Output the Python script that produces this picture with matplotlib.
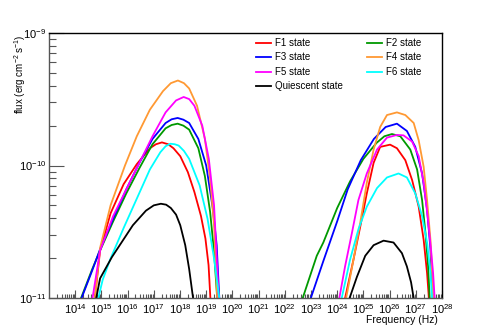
import numpy as np
import matplotlib
matplotlib.use("Agg")
import matplotlib.pyplot as plt
from matplotlib.ticker import FixedLocator, LogLocator, NullFormatter

plt.rcParams["font.family"] = ["Liberation Sans", "DejaVu Sans"]
plt.rcParams["mathtext.fontset"] = "custom"
plt.rcParams["mathtext.rm"] = "Liberation Sans"
plt.rcParams["mathtext.it"] = "Liberation Sans:italic"

# log10(frequency / Hz) and log10(flux / erg cm^-2 s^-1)
# low-energy hump
F1_LO_NU = [14.75, 14.95, 15.35, 15.85, 16.35, 16.85, 17.08, 17.31, 17.55, 17.75, 18.01, 18.3, 18.55, 18.8, 18.97, 19.09, 19.16]
F1_LO_F = [-11.0, -10.64, -10.36, -10.14, -9.99, -9.87, -9.84, -9.826, -9.84, -9.87, -9.93, -10.05, -10.2, -10.38, -10.55, -10.75, -11.0]
F2_LO_NU = [14.22, 14.65, 14.95, 15.45, 15.95, 16.45, 16.95, 17.45, 17.68, 17.91, 18.13, 18.35, 18.7, 18.95, 19.15, 19.3, 19.42]
F2_LO_F = [-11.0, -10.78, -10.64, -10.42, -10.21, -10.02, -9.84, -9.72, -9.695, -9.685, -9.70, -9.73, -9.87, -10.08, -10.35, -10.65, -11.0]
F3_LO_NU = [14.24, 14.65, 14.95, 15.45, 15.95, 16.45, 16.95, 17.45, 17.68, 17.91, 18.13, 18.35, 18.7, 19.0, 19.25, 19.4, 19.5]
F3_LO_F = [-11.0, -10.79, -10.63, -10.40, -10.18, -9.98, -9.80, -9.68, -9.652, -9.642, -9.655, -9.68, -9.80, -10.0, -10.32, -10.6, -11.0]
F4_LO_NU = [14.75, 14.95, 15.35, 15.9, 16.35, 16.85, 17.35, 17.65, 17.92, 18.15, 18.35, 18.65, 18.95, 19.15, 19.3, 19.42]
F4_LO_F = [-11.0, -10.62, -10.30, -10.0, -9.78, -9.58, -9.44, -9.38, -9.36, -9.38, -9.42, -9.55, -9.80, -10.1, -10.45, -11.0]
F5_LO_NU = [14.66, 14.95, 15.45, 15.95, 16.45, 16.95, 17.45, 17.85, 18.14, 18.35, 18.55, 18.85, 19.1, 19.3, 19.48]
F5_LO_F = [-11.0, -10.64, -10.38, -10.18, -9.98, -9.78, -9.60, -9.51, -9.484, -9.50, -9.55, -9.70, -9.95, -10.3, -11.0]
F6_LO_NU = [14.88, 15.05, 15.35, 15.85, 16.35, 16.85, 17.25, 17.45, 17.63, 17.8, 17.95, 18.15, 18.35, 18.75, 19.05, 19.3, 19.5]
F6_LO_F = [-11.0, -10.86, -10.70, -10.47, -10.25, -10.03, -9.90, -9.855, -9.836, -9.84, -9.85, -9.89, -9.95, -10.15, -10.4, -10.7, -11.0]
Q_LO_NU = [14.8, 14.95, 15.4, 15.8, 16.2, 16.7, 17.0, 17.27, 17.47, 17.65, 17.85, 18.01, 18.2, 18.35, 18.5]
Q_LO_F = [-11.0, -10.85, -10.69, -10.57, -10.45, -10.34, -10.30, -10.288, -10.295, -10.32, -10.37, -10.45, -10.6, -10.78, -11.0]

# high-energy hump
F1_HI_NU = [24.30, 24.62, 24.88, 25.13, 25.39, 25.64, 26.02, 26.28, 26.6, 26.86, 27.11, 27.3, 27.43, 27.5]
F1_HI_F = [-11.0, -10.71, -10.46, -10.21, -9.98, -9.86, -9.843, -9.87, -9.96, -10.11, -10.31, -10.56, -10.81, -11.0]
F2_HI_NU = [22.68, 23.22, 23.47, 24.0, 24.49, 25.0, 25.5, 25.8, 26.09, 26.41, 26.79, 27.05, 27.24, 27.37, 27.47, 27.53]
F2_HI_F = [-11.0, -10.68, -10.58, -10.32, -10.12, -9.95, -9.83, -9.78, -9.763, -9.78, -9.88, -10.03, -10.26, -10.51, -10.76, -11.0]
F3_HI_NU = [22.99, 23.47, 24.0, 24.4, 24.9, 25.4, 25.85, 26.28, 26.66, 26.98, 27.24, 27.43, 27.56, 27.65]
F3_HI_F = [-11.0, -10.72, -10.42, -10.18, -9.96, -9.80, -9.71, -9.685, -9.74, -9.86, -10.06, -10.33, -10.63, -11.0]
F4_HI_NU = [24.34, 24.62, 24.88, 25.13, 25.39, 25.64, 25.9, 26.28, 26.6, 26.92, 27.11, 27.3, 27.43, 27.56, 27.62, 27.66]
F4_HI_F = [-11.0, -10.71, -10.43, -10.13, -9.88, -9.71, -9.62, -9.600, -9.62, -9.68, -9.81, -10.01, -10.26, -10.56, -10.81, -11.0]
F5_HI_NU = [24.08, 24.3, 24.56, 24.81, 25.13, 25.52, 25.9, 26.28, 26.53, 26.86, 27.11, 27.3, 27.45, 27.58, 27.66, 27.72]
F5_HI_F = [-11.0, -10.76, -10.51, -10.26, -10.06, -9.88, -9.79, -9.77, -9.773, -9.82, -9.93, -10.13, -10.38, -10.63, -10.81, -11.0]
F6_HI_NU = [24.17, 24.49, 24.81, 25.13, 25.52, 25.9, 26.34, 26.66, 26.98, 27.24, 27.43, 27.56, 27.62]
F6_HI_F = [-11.0, -10.71, -10.48, -10.31, -10.17, -10.09, -10.06, -10.09, -10.21, -10.38, -10.58, -10.81, -11.0]
Q_HI_NU = [24.47, 24.75, 25.07, 25.39, 25.77, 26.15, 26.47, 26.66, 26.82, 26.92]
Q_HI_F = [-11.0, -10.84, -10.68, -10.60, -10.566, -10.58, -10.66, -10.76, -10.88, -11.0]

LABELS = ["F1 state", "F2 state", "F3 state", "F4 state", "F5 state", "F6 state", "Quiescent state"]
COLORS = ["#ff0000", "#009900", "#0000ff", "#ff9933", "#ff00ff", "#00ffff", "#000000"]
LO = [(F1_LO_NU, F1_LO_F), (F2_LO_NU, F2_LO_F), (F3_LO_NU, F3_LO_F), (F4_LO_NU, F4_LO_F),
      (F5_LO_NU, F5_LO_F), (F6_LO_NU, F6_LO_F), (Q_LO_NU, Q_LO_F)]
HI = [(F1_HI_NU, F1_HI_F), (F2_HI_NU, F2_HI_F), (F3_HI_NU, F3_HI_F), (F4_HI_NU, F4_HI_F),
      (F5_HI_NU, F5_HI_F), (F6_HI_NU, F6_HI_F), (Q_HI_NU, Q_HI_F)]

fig = plt.figure(figsize=(4.91, 3.32), dpi=100)
ax = fig.add_axes([0.0998, 0.1015, 0.8004, 0.80])

handles = []
for lab, col, lo, hi in zip(LABELS, COLORS, LO, HI):
    h, = ax.plot(10 ** np.array(lo[0]), 10 ** np.array(lo[1]), color=col, lw=1.3, label=lab)
    ax.plot(10 ** np.array(hi[0]), 10 ** np.array(hi[1]), color=col, lw=1.3)
    handles.append(h)

ax.set_xscale("log")
ax.set_yscale("log")
ax.set_xlim(1e13, 1e28)
ax.set_ylim(1e-11, 1e-9)

grey = "#555555"
for s in ["left", "bottom"]:
    ax.spines[s].set_color(grey)
for s in ["top", "right"]:
    ax.spines[s].set_color("black")
for s in ax.spines.values():
    s.set_linewidth(1.0)

xt = [10.0 ** k for k in range(14, 29)]
ax.xaxis.set_major_locator(FixedLocator(xt))
ax.set_xticklabels([f"$10^{{{k}}}$" for k in range(14, 29)])
ax.xaxis.set_minor_locator(LogLocator(base=10, subs=np.arange(2, 10), numticks=100))
ax.xaxis.set_minor_formatter(NullFormatter())
ax.yaxis.set_major_locator(FixedLocator([1e-11, 1e-10, 1e-9]))
ax.set_yticklabels(["$10^{-11}$", "$10^{-10}$", "$10^{-9}$"])
ax.yaxis.set_minor_locator(LogLocator(base=10, subs=np.arange(2, 10), numticks=100))
ax.yaxis.set_minor_formatter(NullFormatter())

ax.tick_params(axis="x", which="major", direction="in", length=6, width=0.8, color=grey,
               labelsize=8, pad=3, top=False)
ax.tick_params(axis="x", which="minor", direction="in", length=3, width=0.8, color=grey, top=False)
ax.tick_params(axis="y", which="major", direction="in", length=11, width=0.8, color=grey,
               labelsize=8, pad=2, right=False)
ax.tick_params(axis="y", which="minor", direction="in", length=5, width=0.8, color=grey, right=False)

fig.text(20 / 491, 1 - 34 / 332, "flux (erg cm$^{-2}$ s$^{-1}$)", rotation=90,
         ha="center", va="top", fontsize=7)
fig.text(438 / 491, 1 - 320 / 332, "Frequency (Hz)", ha="right", va="center", fontsize=7.5)

# legend filled row-wise like the original
order = [0, 2, 4, 6, 1, 3, 5]
leg = fig.legend([handles[i] for i in order], [LABELS[i] for i in order], ncol=2,
                 loc="upper left", bbox_to_anchor=(256 / 491, 1 - 38 / 332),
                 frameon=False, fontsize=7, handlelength=1.55, handletextpad=0.45,
                 columnspacing=2.4, labelspacing=0.46, borderpad=0, borderaxespad=0)

fig.savefig("out.png", dpi=100)
